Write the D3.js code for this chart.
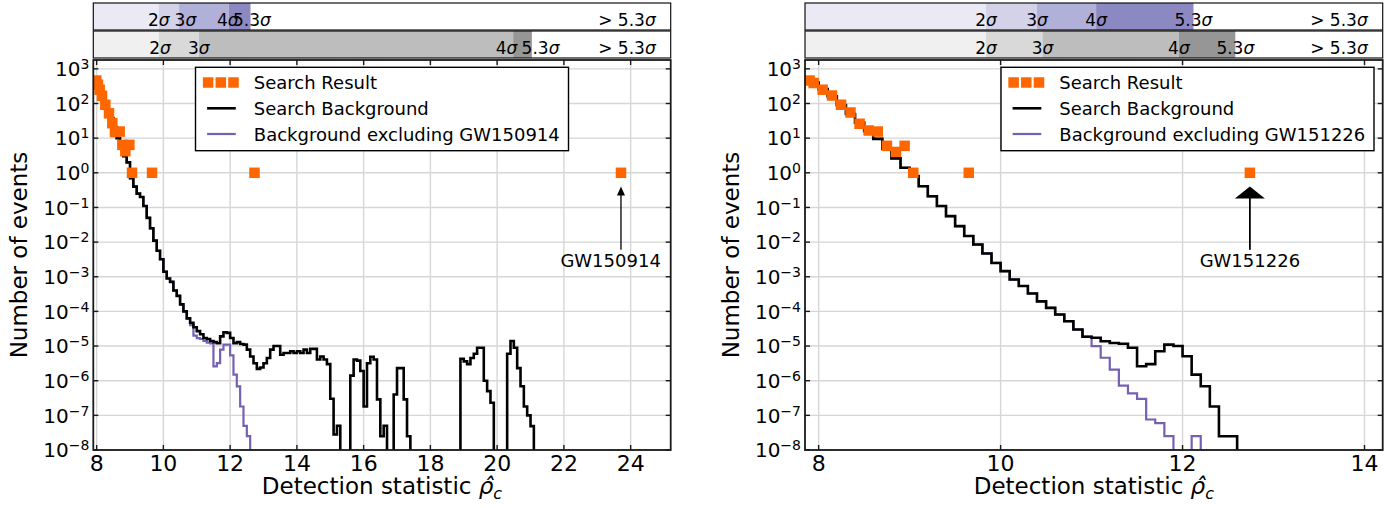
<!DOCTYPE html>
<html>
<head>
<meta charset="utf-8">
<script src="https://cdn.jsdelivr.net/npm/d3@7"></script>
<style>
  body { margin: 0; background: #fff; }
  text { font-family: "DejaVu Sans", sans-serif; fill: #000; }
</style>
</head>
<body>
<svg id="chart" width="1394" height="508"></svg>
<script>
// axis limits and ticks
const xLimL = [7.9, 25.2];
const xLimR = [7.85, 14.2];
const xTicksL = [8, 10, 12, 14, 16, 18, 20, 22, 24];
const xTicksR = [8, 10, 12, 14];
const yLim = [1e-8, 1.8e3];
const yTickExp = [3, 2, 1, 0, -1, -2, -3, -4, -5, -6, -7, -8];

// significance bands (rho where 2, 3, 4, 5.3 sigma are reached) and where their labels sit
const sigmaNames = ["2", "3", "4", "5.3"];
const sigPurpleL = [9.86, 10.47, 11.96, 12.61];
const sigGreyL = [9.86, 11.06, 20.48, 21.04];
const sigPurpleR = [9.84, 10.40, 11.05, 12.12];
const sigGreyR = [9.84, 10.46, 11.96, 12.58];
const labPurpleL = [9.86, 10.66, 11.93, 12.65];
const labGreyL = [9.9, 11.06, 20.28, 21.3];
const labPurpleR = sigPurpleR;
const labGreyR = sigGreyR;
const purpleShades = ["#ebe9f4", "#d3d2e9", "#b1b0d8", "#8c88c2"];
const greyShades = ["#f0f0f0", "#d9d9d9", "#bdbdbd", "#969696"];

// search result (foreground) points
const fgRhoL = [7.99, 8.04, 8.09, 8.16, 8.26, 8.37, 8.47, 8.55, 8.69, 8.77, 8.86, 8.98, 9.06, 9.66, 12.73, 23.71];
const fgCountL = [460, 350, 250, 167, 92, 52, 27, 15, 15.5, 6.4, 4.2, 6.4, 1, 1, 1, 1];
const fgRhoR = [7.90, 7.945, 8.044, 8.147, 8.246, 8.35, 8.45, 8.55, 8.65, 8.75, 8.85, 8.945, 9.04, 9.65, 12.74];
const fgCountR = [460, 390, 250, 170, 92, 55, 26, 16.6, 15.5, 6, 4, 6, 1, 1, 1];

// background histograms, bins of 0.1 starting at bgStart
const binWidth = 0.1;
const bgStartL = 7.9;
const bgL = [450, 300, 190, 110, 65, 38, 21, 10, 5.5, 3.0,
  2.0, 0.7, 0.4, 0.25, 0.2, 0.11, 0.05, 0.025, 0.011, 5.6e-3,
  3.2e-3, 1.4e-3, 8.9e-4, 7.1e-4, 4.0e-4, 2.8e-4, 1.6e-4, 1.0e-4, 6.3e-5, 4.7e-5,
  3.5e-5, 2.7e-5, 2.2e-5, 1.7e-5, 1.6e-5, 1.4e-5, 1.3e-5, 1.2e-5, 1.9e-5, 2.5e-5,
  2.4e-5, 1.7e-5, 1.2e-5, 1.3e-5, 1.15e-5, 1.1e-5, 7.9e-6, 5.0e-6, 3.2e-6, 2.2e-6,
  2.4e-6, 3.2e-6, 4.5e-6, 7.9e-6, 1.0e-5, 1.0e-5, 5.6e-6, 6.3e-6, 6.3e-6, 7.1e-6,
  6.3e-6, 7.1e-6, 6.3e-6, 7.9e-6, 6.3e-6, 8.3e-6, 8.3e-6, 4.1e-6, 5.0e-6, 4.1e-6,
  3.0e-6, 3.0e-7, 2.8e-8, 5.0e-8, 0, 0, 0, 1.4e-6, 4.1e-6, 3.8e-6,
  1.9e-6, 1.8e-7, 3.2e-6, 4.9e-6, 4.1e-6, 2.9e-7, 2.5e-8, 5.0e-8, 0, 0,
  4.0e-7, 2.3e-6, 2.3e-6, 2.9e-7, 2.5e-8, 0, 0, 0, 0, 0,
  0, 0, 0, 0, 0, 0, 0, 0, 0, 0,
  4.3e-6, 3.6e-6, 3.0e-6, 4.5e-6, 6.0e-6, 8.9e-6, 8.9e-6, 1.0e-6, 5.0e-7, 2.3e-7,
  0, 0, 0, 0, 6.0e-6, 1.4e-5, 8.9e-6, 2.3e-6, 6.9e-7, 1.8e-7,
  1.0e-7, 4.9e-8, 0];
const bgExclL = [450, 300, 190, 110, 65, 38, 21, 10, 5.5, 3.0,
  2.0, 0.7, 0.4, 0.25, 0.2, 0.11, 0.05, 0.025, 0.011, 5.6e-3,
  3.2e-3, 1.4e-3, 8.9e-4, 7.1e-4, 4.0e-4, 2.8e-4, 1.6e-4, 1.0e-4, 6.3e-5, 4.0e-5,
  2.0e-5, 1.7e-5, 1.6e-5, 1.4e-5, 1.26e-5, 1.2e-5, 2.6e-6, 3.2e-6, 7.9e-6, 1.1e-5,
  1.1e-5, 5.4e-6, 1.5e-6, 6.9e-7, 1.8e-7, 5.0e-8, 2.5e-8, 0];

const bgStartR = 7.8;
const bgR = [520, 400, 260, 160, 90, 50, 28, 16, 9.5, 5.0,
  2.6, 1.4, 0.8, 0.41, 0.21, 0.11, 0.056, 0.029, 0.015, 8.5e-3,
  4.7e-3, 2.5e-3, 1.45e-3, 8.3e-4, 5.4e-4, 3.3e-4, 1.95e-4, 1.26e-4, 8.1e-5, 5.2e-5,
  3.0e-5, 1.86e-5, 1.74e-5, 1.38e-5, 1.23e-5, 1.17e-5, 8.9e-6, 2.6e-6, 3.0e-6, 7.1e-6,
  1.1e-5, 1.0e-5, 5.1e-6, 1.5e-6, 6.9e-7, 1.8e-7, 2.5e-8, 2.5e-8, 0];
const bgExclR = [520, 400, 260, 160, 90, 50, 28, 16, 9.5, 5.0,
  2.6, 1.4, 0.8, 0.41, 0.21, 0.11, 0.056, 0.029, 0.015, 8.5e-3,
  4.7e-3, 2.5e-3, 1.45e-3, 8.3e-4, 5.4e-4, 3.3e-4, 1.95e-4, 1.26e-4, 8.1e-5, 5.2e-5,
  3.0e-5, 1.86e-5, 1.0e-5, 4.6e-6, 2.1e-6, 7.2e-7, 4.3e-7, 3.0e-7, 7.6e-8, 6.0e-8,
  2.5e-8, 0, 0, 2.5e-8, 0];

// event annotations: [rho of arrow, rho of text, arrow tip, arrow tail, text baseline]
const annotL = [23.71, 23.4, 0.4, 6e-3, 1.9e-3];
const annotR = [12.74, 12.74, 0.4, 6e-3, 1.9e-3];

const colFg = "#ff6600";
const colExcl = "#7461b2";

const svg = d3.select("#chart");
const plotTop = 60, plotBottom = 450;

const panels = [
  { id: "L", left: 93.3, right: 670.7, xlim: xLimL, xticks: xTicksL,
    sigP: sigPurpleL, sigG: sigGreyL, labP: labPurpleL, labG: labGreyL,
    fgRho: fgRhoL, fgCount: fgCountL, bgStart: bgStartL, bg: bgL, bgExcl: bgExclL,
    event: "GW150914", annot: annotL, legend: "center", bigHead: false },
  { id: "R", left: 805, right: 1382.7, xlim: xLimR, xticks: xTicksR,
    sigP: sigPurpleR, sigG: sigGreyR, labP: labPurpleR, labG: labGreyR,
    fgRho: fgRhoR, fgCount: fgCountR, bgStart: bgStartR, bg: bgR, bgExcl: bgExclR,
    event: "GW151226", annot: annotR, legend: "right", bigHead: true }
];

function sigmaText(sel, name) {
  sel.append("tspan").text(name);
  sel.append("tspan").attr("font-style", "italic").text("σ");
}

function drawPanel(p) {
  const x = d3.scaleLinear().domain(p.xlim).range([p.left, p.right]);
  const y = d3.scaleLog().domain(yLim).range([plotBottom, plotTop]);
  const yv = v => v > 0 ? y(v) : plotBottom + 40;
  const g = svg.append("g");

  const clipId = "clip" + p.id;
  svg.append("clipPath").attr("id", clipId).append("rect")
    .attr("x", p.left).attr("y", plotTop)
    .attr("width", p.right - p.left).attr("height", plotBottom - plotTop);

  // significance bands on top
  [[p.sigP, p.labP, purpleShades, 3], [p.sigG, p.labG, greyShades, 31]].forEach(([th, lab, shades, y0]) => {
    const edges = [p.xlim[0], ...th];
    const band = g.append("g");
    shades.forEach((c, i) => {
      band.append("rect")
        .attr("x", x(edges[i])).attr("y", y0)
        .attr("width", x(edges[i + 1]) - x(edges[i])).attr("height", 27)
        .attr("fill", c);
    });
    lab.forEach((t, i) => {
      band.append("text")
        .attr("x", x(t)).attr("y", y0 + 23)
        .attr("text-anchor", "middle").attr("font-size", 17)
        .call(sigmaText, sigmaNames[i]);
    });
    band.append("text")
      .attr("x", p.right - 15).attr("y", y0 + 23)
      .attr("text-anchor", "end").attr("font-size", 17)
      .call(sigmaText, "> 5.3");
    band.append("rect")
      .attr("x", p.left).attr("y", y0)
      .attr("width", p.right - p.left).attr("height", 27)
      .attr("fill", "none").attr("stroke", "#111").attr("stroke-width", 1.2);
  });

  // grid
  const grid = g.append("g").attr("stroke", "#d6d6d6").attr("stroke-width", 1.4);
  grid.selectAll(".gx").data(p.xticks).join("line")
    .attr("x1", d => x(d)).attr("x2", d => x(d)).attr("y1", plotTop).attr("y2", plotBottom);
  grid.selectAll(".gy").data(yTickExp).join("line")
    .attr("x1", p.left).attr("x2", p.right)
    .attr("y1", d => y(10 ** d)).attr("y2", d => y(10 ** d));

  // background histograms
  const steps = (start, vals) => {
    const pts = vals.map((v, i) => [start + i * binWidth, v]);
    pts.push([start + vals.length * binWidth, vals[vals.length - 1]]);
    return pts;
  };
  const line = d3.line().x(d => x(d[0])).y(d => yv(d[1])).curve(d3.curveStepAfter);
  const plot = g.append("g").attr("clip-path", `url(#${clipId})`);
  plot.append("path").attr("d", line(steps(p.bgStart, p.bgExcl)))
    .attr("fill", "none").attr("stroke", colExcl).attr("stroke-width", 2.2);
  plot.append("path").attr("d", line(steps(p.bgStart, p.bg)))
    .attr("fill", "none").attr("stroke", "#000").attr("stroke-width", 2.6);

  // search result squares
  const sq = 10.5;
  plot.selectAll(".fg").data(p.fgRho).join("rect")
    .attr("x", (d) => x(d) - sq / 2)
    .attr("y", (d, i) => y(p.fgCount[i]) - sq / 2)
    .attr("width", sq).attr("height", sq).attr("fill", colFg);

  // legend
  const lw = 373, lh = 83.4;
  const lx = p.legend === "center" ? (p.left + p.right) / 2 - lw / 2 : p.right - 8.7 - lw;
  const lg = g.append("g").attr("transform", `translate(${lx},67.3)`);
  lg.append("rect").attr("width", lw).attr("height", lh)
    .attr("fill", "#fff").attr("stroke", "#000").attr("stroke-width", 1.4);
  [12.6, 25.3, 38].forEach(cx => {
    lg.append("rect").attr("x", cx - sq / 2).attr("y", 15.2 - sq / 2)
      .attr("width", sq).attr("height", sq).attr("fill", colFg);
  });
  lg.append("line").attr("x1", 11.6).attr("x2", 40.3).attr("y1", 41).attr("y2", 41)
    .attr("stroke", "#000").attr("stroke-width", 2.6);
  lg.append("line").attr("x1", 11.6).attr("x2", 40.3).attr("y1", 66.7).attr("y2", 66.7)
    .attr("stroke", colExcl).attr("stroke-width", 2.2);
  ["Search Result", "Search Background", "Background excluding " + p.event].forEach((t, i) => {
    lg.append("text").attr("x", 58.3).attr("y", 21.7 + i * 25.8)
      .attr("font-size", 18).text(t);
  });

  // event arrow
  const [ax, tx, tip, tail, tb] = p.annot;
  const axp = x(ax);
  if (p.bigHead) {
    g.append("line").attr("x1", axp).attr("x2", axp).attr("y1", y(tail)).attr("y2", y(tip) + 10)
      .attr("stroke", "#000").attr("stroke-width", 1.8);
    g.append("path")
      .attr("d", `M${axp},${y(tip)}L${axp - 15},${y(tip) + 12}L${axp + 15},${y(tip) + 12}Z`)
      .attr("fill", "#000");
  } else {
    g.append("line").attr("x1", axp).attr("x2", axp).attr("y1", y(tail)).attr("y2", y(tip) + 6)
      .attr("stroke", "#000").attr("stroke-width", 1.3);
    g.append("path")
      .attr("d", `M${axp},${y(tip)}L${axp - 4},${y(tip) + 9}L${axp + 4},${y(tip) + 9}Z`)
      .attr("fill", "#000");
  }
  g.append("text").attr("x", x(tx)).attr("y", y(tb))
    .attr("text-anchor", "middle").attr("font-size", 18).text(p.event);

  // frame and inward ticks
  const frame = g.append("g").attr("stroke", "#1a1a1a").attr("stroke-width", 1.4);
  yTickExp.forEach(e => {
    const yy = y(10 ** e);
    frame.append("line").attr("x1", p.left).attr("x2", p.left + 5).attr("y1", yy).attr("y2", yy);
    frame.append("line").attr("x1", p.right - 5).attr("x2", p.right).attr("y1", yy).attr("y2", yy);
  });
  p.xticks.forEach(t => {
    frame.append("line").attr("x1", x(t)).attr("x2", x(t)).attr("y1", plotBottom).attr("y2", plotBottom - 5);
    frame.append("line").attr("x1", x(t)).attr("x2", x(t)).attr("y1", plotTop).attr("y2", plotTop + 5);
  });
  g.append("rect").attr("x", p.left).attr("y", plotTop)
    .attr("width", p.right - p.left).attr("height", plotBottom - plotTop)
    .attr("fill", "none").attr("stroke", "#1a1a1a").attr("stroke-width", 1.8);

  // tick labels
  yTickExp.forEach(e => {
    const t = g.append("text").attr("x", p.left - 4).attr("y", y(10 ** e))
      .attr("dy", "0.36em").attr("text-anchor", "end").attr("font-size", 20);
    t.append("tspan").text("10");
    t.append("tspan").attr("font-size", 14).attr("dy", "-0.5em")
      .text(e < 0 ? "\u2212" + (-e) : String(e));
  });
  p.xticks.forEach(v => {
    g.append("text").attr("x", x(v)).attr("y", 470.7)
      .attr("text-anchor", "middle").attr("font-size", 22).text(v);
  });

  // axis labels
  const xl = g.append("text").attr("x", (p.left + p.right) / 2).attr("y", 494)
    .attr("text-anchor", "middle").attr("font-size", 23);
  xl.append("tspan").text("Detection statistic ");
  xl.append("tspan").attr("font-style", "italic").text("\u03c1\u0302");
  xl.append("tspan").attr("font-style", "italic").attr("font-size", 16).attr("dy", 5).text("c");

  g.append("text")
    .attr("transform", `translate(${p.left - 66},${(plotTop + plotBottom) / 2}) rotate(-90)`)
    .attr("text-anchor", "middle").attr("font-size", 23).text("Number of events");
}

panels.forEach(drawPanel);
</script>
</body>
</html>
